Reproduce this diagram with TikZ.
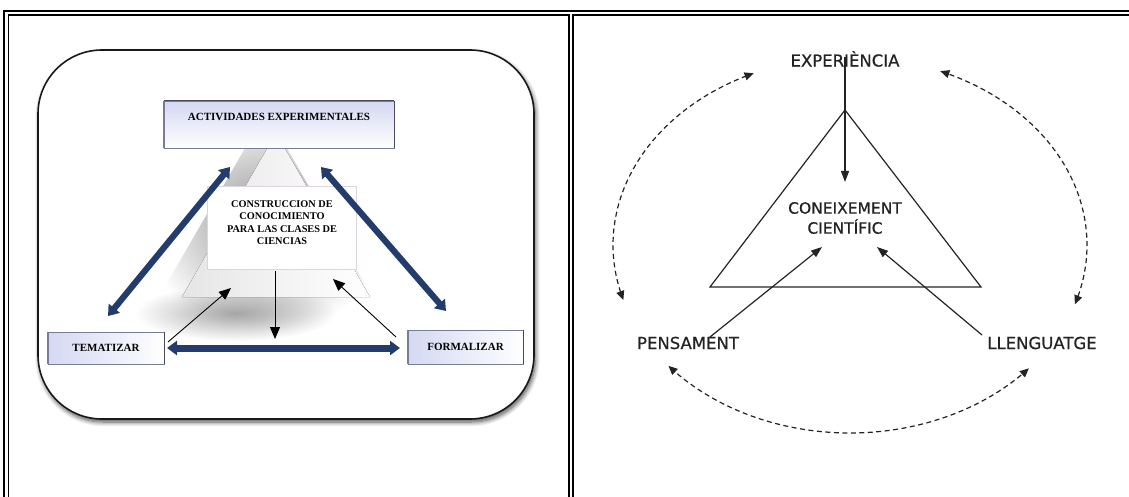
\documentclass[tikz,border=0pt]{standalone}
\usepackage{fontspec}
\setmainfont{Liberation Serif}
\newfontfamily\handfont[FakeBold=0.7]{DejaVu Sans}
\usetikzlibrary{arrows.meta,shadows.blur,fadings}

\definecolor{navy}{RGB}{36,60,108}
\definecolor{lav}{RGB}{212,216,242}
\definecolor{boxedge}{RGB}{120,124,150}
\definecolor{boxdark}{RGB}{70,74,96}
\definecolor{ink}{RGB}{35,35,35}
\definecolor{softedge}{RGB}{222,212,224}

\tikzfading[name=softblob, inner color=transparent!0, outer color=transparent!100]

\tikzset{
  frameline/.style={line width=1.6pt, black, line join=miter},
  panel/.style={rounded corners=64pt, draw=black!90, line width=1.6pt, fill=white,
    blur shadow={shadow xshift=1.5pt, shadow yshift=-3pt, shadow blur radius=4.5pt,
      shadow blur steps=8, shadow opacity=70}},
  lbox/.style={draw=boxedge, line width=0.7pt, inner xsep=2pt,
    font=\bfseries\fontsize{11}{13}\selectfont},
  cbox/.style={draw=softedge, line width=1pt, fill=white},
  ctext/.style={align=center, font=\bfseries\fontsize{10.3}{12.5}\selectfont},
  bluearrow/.style={line width=6.2pt, navy,
    {Triangle[width=14pt,length=10pt]}-{Triangle[width=14pt,length=10pt]}},
  thinarrow/.style={line width=0.9pt, black, -{Triangle[width=10pt,length=12pt]}},
  hand/.style={font=\handfont\fontsize{16.5}{20}\selectfont, text=ink, inner sep=1pt, align=center},
  rline/.style={line width=1.2pt, ink},
  rarrow/.style={line width=1.2pt, ink, -{Triangle[width=8pt,length=11pt]}},
  dasharc/.style={line width=1.2pt, ink, dash pattern=on 5pt off 3.5pt,
    {Triangle[width=8pt,length=9pt]}-{Triangle[width=8pt,length=9pt]}},
}

\begin{document}
\begin{tikzpicture}[x=1pt,y=-1pt]
\useasboundingbox (0,0) rectangle (1129,497);

% table frame with double rules
\draw[frameline] (3.8,497) -- (3.8,10.8) -- (1129,10.8);
\draw[frameline] (8.3,497) -- (8.3,14.8) -- (568.7,14.8) -- (568.7,497);
\draw[frameline] (573.2,497) -- (573.2,14.8) -- (1129,14.8);

% ---------------- left cell ----------------
\draw[panel] (38,50) rectangle (534,419);

% pale pyramid with a soft dark halo
\fill[gray!85, path fading=softblob] (266,112) -- (392,330) -- (140,330) -- cycle;
\fill[gray!70, path fading=softblob] (236,313) ellipse [x radius=100, y radius=28];
\fill[left color=gray!20, right color=white]
  (276,133) coordinate (apex) -- (370,297) coordinate (pbr) -- (182,297) coordinate (pbl) -- cycle;

\node[lbox, top color=lav, bottom color=white, minimum width=230pt, minimum height=47pt,
      text height=16pt, text depth=23pt, inner ysep=4pt] (act) at (279,124.5)
      {ACTIVIDADES EXPERIMENTALES};
\draw[line width=1.2pt, boxdark] (act.north west) -- (act.north east);
\draw[line width=1.1pt, boxedge] (act.north west) -- (act.south west);
\draw[line width=1.7pt, boxdark] (act.north east) -- (act.south east);

\node[lbox, left color=lav, right color=white, minimum width=116pt, minimum height=32pt]
      (tem) at (106,348) {TEMATIZAR};
\draw[line width=1.1pt, boxedge] (tem.north west) -- (tem.south west);
\draw[line width=1.7pt, boxdark] (tem.north east) -- (tem.south east);

\node[lbox, left color=lav, right color=white, minimum width=115pt, minimum height=34pt]
      (for) at (465.5,347) {FORMALIZAR};
\draw[line width=1.1pt, boxedge] (for.north west) -- (for.south west);
\draw[line width=1.7pt, boxdark] (for.north east) -- (for.south east);

\node[cbox, minimum width=149pt, minimum height=82pt] (cbx) at (281.5,228) {};
\node[ctext] (cons) at (282,222.5) {CONSTRUCCION DE\\CONOCIMIENTO\\PARA LAS CLASES DE\\CIENCIAS};

% thick double arrows between the three activities
\coordinate (tA) at (108,316);  \coordinate (aT) at (230,167);
\coordinate (aF) at (321,167);  \coordinate (fA) at (446,311);
\coordinate (tF) at (167,348);  \coordinate (fT) at (400,348);
\draw[bluearrow] (tA) -- (aT);
\draw[bluearrow] (aF) -- (fA);
\draw[bluearrow, line width=7pt] (tF) -- (fT);

% thin arrows to and from the centre
\coordinate (tC) at (168,342);  \coordinate (cT) at (231,288);
\coordinate (fC) at (396,337);  \coordinate (cF) at (333,279);
\coordinate (cD) at (275,271);  \coordinate (dB) at (275,339);
\draw[thinarrow] (tC) -- (cT);
\draw[thinarrow] (fC) -- (cF);
\draw[thinarrow] (cD) -- (dB);

% ---------------- right cell ----------------
\draw[rline] (845,110) coordinate (rapex) -- (981,287) coordinate (rbr)
  -- (710,287) coordinate (rbl) -- cycle;

\node[hand] (exp) at (845,59) {EXPERIÈNCIA};
\node[hand, font=\handfont\fontsize{15.5}{20}\selectfont] (con) at (845,218) {CONEIXEMENT\\CIENTÍFIC};
\node[hand] (pen) at (688,343) {PENSAMENT};
\node[hand] (lle) at (1042,343) {LLENGUATGE};

\coordinate (eS) at (845,57);   \coordinate (eE) at (845,182);
\coordinate (pS) at (710,337);  \coordinate (pE) at (822,247);
\coordinate (lS) at (982,335);  \coordinate (lE) at (877,247);
\draw[rarrow] (eS) -- (eE);
\draw[rarrow] (pS) -- (pE);
\draw[rarrow] (lS) -- (lE);

% dashed double arrows around the triangle (arcs of one ellipse)
\draw[dasharc] plot[domain=163:246, samples=60, smooth] ({850+237*cos(\x)},{245+188*sin(\x)});
\draw[dasharc] plot[domain=-67.6:18.4, samples=60, smooth] ({850+237*cos(\x)},{245+188*sin(\x)});
\draw[dasharc] plot[domain=41:140, samples=60, smooth] ({850+237*cos(\x)},{245+188*sin(\x)});
\end{tikzpicture}
\end{document}
